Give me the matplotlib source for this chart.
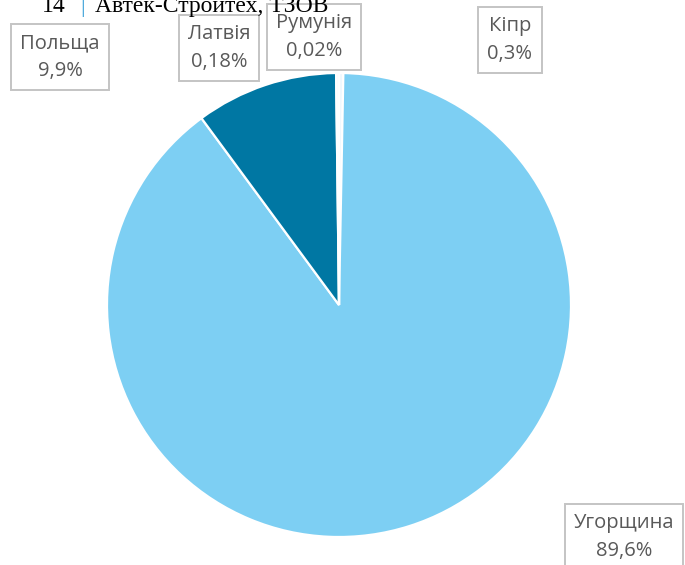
import matplotlib.pyplot as plt

# data (clockwise from 12 o'clock)
countries = ['Кіпр', 'Угорщина', 'Польща', 'Латвія', 'Румунія']
shares = [0.3, 89.6, 9.9, 0.18, 0.02]
share_labels = ['0,3%', '89,6%', '9,9%', '0,18%', '0,02%']
colors = ['#eef8fd', '#7dcff3', '#0077a3', '#eef8fd', '#eef8fd']

W, H = 685, 565
fig = plt.figure(figsize=(W / 100, H / 100), dpi=100)
fig.patch.set_facecolor('white')

def px(x, y):
    return x / W, 1 - y / H

# pie axes: centre (339, 305), radius 232 px
cx, cy, r = 339, 305, 232
ax = fig.add_axes([(cx - r) / W, (H - cy - r) / H, 2 * r / W, 2 * r / H])
ax.pie(shares, colors=colors, startangle=90, counterclock=False, radius=1,
       wedgeprops=dict(edgecolor='white', linewidth=1.6))
ax.set_xlim(-1, 1)
ax.set_ylim(-1, 1)
ax.axis('off')

# data labels (box centres in pixels)
label_pos = {'Польща': (60, 57), 'Латвія': (219, 48), 'Румунія': (314, 37),
             'Кіпр': (510, 40), 'Угорщина': (624, 537)}
for name, lab in zip(countries, share_labels):
    x, y = label_pos[name]
    fig.text(*px(x, y), name + '\n' + lab, ha='center', va='center',
             fontsize=14.5, family='Open Sans', color='#595959', linespacing=1.55,
             bbox=dict(boxstyle='square,pad=0.45', fc='white', ec='#c4c4c4', lw=1.4))

# page header, cut off at the top
fig.text(*px(42, 12), '14', ha='left', va='baseline', fontsize=17,
         family='Liberation Serif', color='black')
fig.text(*px(80, 12), '|', ha='left', va='baseline', fontsize=17,
         family='Liberation Serif', color='#3aa0d8')
fig.text(*px(95, 12), 'Автек-Стройтех, ТЗОВ', ha='left', va='baseline', fontsize=17,
         family='Liberation Serif', color='black')

fig.savefig('out.png', dpi=100)
